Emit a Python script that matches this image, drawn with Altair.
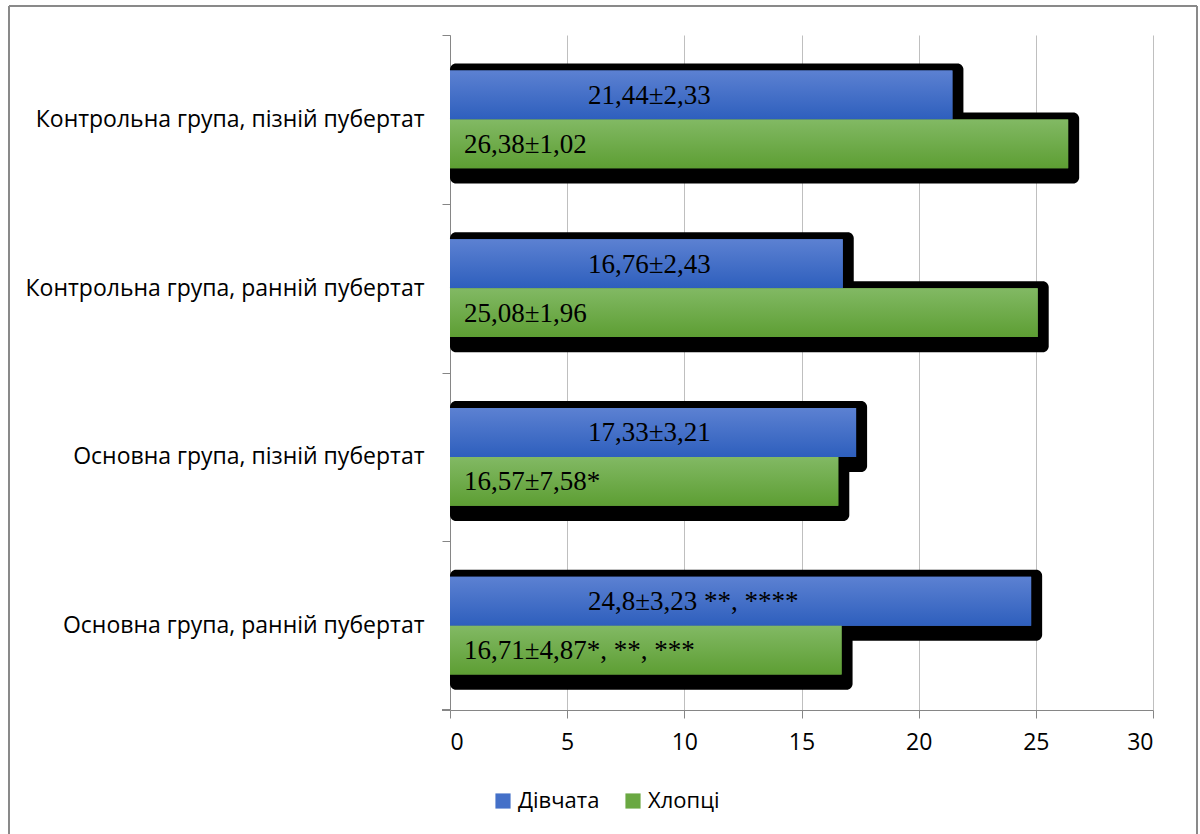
import altair as alt
import pandas as pd

# Groups, top to bottom
categories = [
    "Контрольна група, пізній пубертат",
    "Контрольна група, ранній пубертат",
    "Основна група, пізній пубертат",
    "Основна група, ранній пубертат",
]
series = ["Дівчата", "Хлопці"]

girls_values = [21.44, 16.76, 17.33, 24.8]
boys_values = [26.38, 25.08, 16.57, 16.71]

girls_labels = ["21,44±2,33", "16,76±2,43", "17,33±3,21", "24,8±3,23 **, ****"]
boys_labels = ["26,38±1,02", "25,08±1,96", "16,57±7,58*", "16,71±4,87*, **, ***"]

x_ticks = [0, 5, 10, 15, 20, 25, 30]

rows = []
for cat, v, lab in zip(categories, girls_values, girls_labels):
    rows.append({"group": cat, "sex": series[0], "value": v, "label": lab})
for cat, v, lab in zip(categories, boys_values, boys_labels):
    rows.append({"group": cat, "sex": series[1], "value": v, "label": lab})
df = pd.DataFrame(rows)

PLOT_W, PLOT_H = 703, 675
PAD_INNER, PAD_OUTER = 0.42, 0.21
STEP = PLOT_H / (len(categories) - PAD_INNER + 2 * PAD_OUTER)
HALF_GAP = PAD_INNER * STEP / 2  # distance from a band edge to the group boundary
SANS = "Open Sans"
SERIF = "Liberation Serif"

y_enc = alt.Y(
    "group:N",
    sort=categories,
    scale=alt.Scale(paddingInner=PAD_INNER, paddingOuter=PAD_OUTER),
    axis=alt.Axis(
        title=None,
        ticks=True,
        bandPosition=0,
        tickOffset=-HALF_GAP,
        labelOffset=HALF_GAP,
        tickSize=8,
        tickColor="#868686",
        domainColor="#868686",
        labelFont=SANS,
        labelFontSize=23,
        labelColor="#000000",
        labelPadding=18,
        labelLimit=440,
        grid=False,
    ),
)
yoff_enc = alt.YOffset("sex:N", sort=series)
x_enc = alt.X(
    "value:Q",
    scale=alt.Scale(domain=[0, 30], nice=False),
    axis=alt.Axis(
        title=None,
        values=x_ticks,
        grid=True,
        gridColor="#bfbfbf",
        gridWidth=1,
        tickColor="#868686",
        tickSize=8,
        domainColor="#868686",
        labelFont=SANS,
        labelFontSize=23,
        labelColor="#000000",
        labelPadding=13,
    ),
)

base = alt.Chart(df)

# Outer chart frame
frame = base.mark_rect(fill=None, stroke="#898989", strokeWidth=1).encode(
    x=alt.value(-441), x2=alt.value(747), y=alt.value(-29), y2=alt.value(820)
)

# Closing tick at the bottom of the category axis
bottom_tick = base.mark_rule(color="#868686", strokeWidth=1).encode(
    x=alt.value(-8), x2=alt.value(0), y=alt.value(PLOT_H)
)

# Dark drop shadows behind each bar, pushed right and down:
# the shadow sub-bands keep the same step but sit a few pixels lower.
shadows = base.mark_bar(
    color="#000000", cornerRadius=6, height=71, xOffset=11
).encode(
    y=y_enc,
    yOffset=alt.YOffset(
        "sex:N",
        scale=alt.Scale(domain=series, paddingInner=0.165, paddingOuter=0.0825, align=1),
    ),
    x=x_enc,
    x2=alt.datum(0),
)

# Solid bars carry the legend
solid = base.mark_bar().encode(
    y=y_enc,
    yOffset=yoff_enc,
    x=x_enc,
    color=alt.Color(
        "sex:N",
        sort=series,
        scale=alt.Scale(domain=series, range=["#4470c8", "#6aa842"]),
        legend=alt.Legend(
            title=None,
            orient="none",
            direction="horizontal",
            legendX=42,
            legendY=755,
            symbolType="square",
            symbolSize=230,
            symbolStrokeWidth=0,
            labelFont=SANS,
            labelFontSize=22,
            labelColor="#000000",
            labelOffset=4,
            columnPadding=22,
        ),
    ),
)

blue_grad = alt.Gradient(
    gradient="linear", x1=0, y1=0, x2=0, y2=1,
    stops=[alt.GradientStop(offset=0, color="#5c81d2"), alt.GradientStop(offset=1, color="#2e5fbd")],
)
green_grad = alt.Gradient(
    gradient="linear", x1=0, y1=0, x2=0, y2=1,
    stops=[alt.GradientStop(offset=0, color="#82b964"), alt.GradientStop(offset=1, color="#5d9e33")],
)

girls_bars = base.mark_bar(color=blue_grad).encode(
    y=y_enc, yOffset=yoff_enc, x=x_enc
).transform_filter(alt.datum.sex == series[0])
boys_bars = base.mark_bar(color=green_grad).encode(
    y=y_enc, yOffset=yoff_enc, x=x_enc
).transform_filter(alt.datum.sex == series[1])

girls_text = base.mark_text(
    align="left", baseline="middle", dx=138, dy=1, font=SERIF, fontSize=27, color="#000000"
).encode(
    y=y_enc, yOffset=yoff_enc, x=alt.datum(0), text="label:N"
).transform_filter(alt.datum.sex == series[0])
boys_text = base.mark_text(
    align="left", baseline="middle", dx=14, dy=1, font=SERIF, fontSize=27, color="#000000"
).encode(
    y=y_enc, yOffset=yoff_enc, x=alt.datum(0), text="label:N"
).transform_filter(alt.datum.sex == series[1])

# Bars and labels share one sub-band scale; the shadows keep their own
front = alt.layer(solid, girls_bars, boys_bars, girls_text, boys_text)

chart = (
    alt.layer(frame, bottom_tick, shadows, front)
    .resolve_scale(yOffset="independent")
    .properties(
        width=PLOT_W,
        height=PLOT_H,
        padding={"left": 450, "top": 35, "right": 47, "bottom": 124},
        autosize=alt.AutoSizeParams(type="none"),
        background="#ffffff",
    )
    .configure_view(stroke=None)
)

chart.save("out.html", embed_options={"renderer": "svg", "actions": False})
